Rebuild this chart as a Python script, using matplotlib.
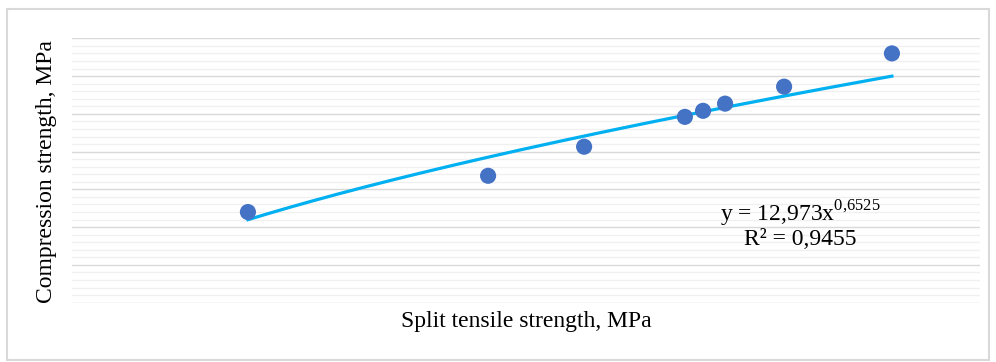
import matplotlib
matplotlib.use("Agg")
import matplotlib.pyplot as plt
import numpy as np
from matplotlib.patches import Rectangle
from matplotlib.ticker import MultipleLocator

plt.rcParams['font.family'] = ['Liberation Serif', 'DejaVu Serif']
plt.rcParams['mathtext.fontset'] = 'custom'
plt.rcParams['mathtext.rm'] = 'Liberation Serif'

# data
split_tensile = [0.775, 1.833, 2.256, 2.70, 2.78, 2.877, 3.137, 3.612]
compression = [12.0, 16.8, 20.65, 24.6, 25.4, 26.35, 28.6, 33.0]
fit_a = 12.973
fit_b = 0.6525
r2_text = "R² = 0,9455"

fig = plt.figure(figsize=(9.96, 3.62), dpi=100)
fig.patches.append(Rectangle((7/996, 2/362), 982/996, 351/362, transform=fig.transFigure,
                             fill=False, edgecolor='#d9d9d9', linewidth=1.5))
ax = fig.add_axes([72/996, (362-302.7)/362, 908/996, (302.7-38.3)/362])

ax.set_xlim(0, 4)
ax.set_ylim(0, 35)
ax.yaxis.set_major_locator(MultipleLocator(5))
ax.yaxis.set_minor_locator(MultipleLocator(1))
ax.grid(True, which='major', axis='y', color='#d9d9d9', linewidth=1.0)
ax.grid(True, which='minor', axis='y', color='#f0f0f0', linewidth=1.0)
ax.set_axisbelow(True)
for s in ax.spines.values():
    s.set_visible(False)
ax.tick_params(which='both', left=False, bottom=False, labelleft=False, labelbottom=False)

xs = np.linspace(min(split_tensile), max(split_tensile), 200)
ax.plot(xs, fit_a * xs ** fit_b, color='#00B0F0', linewidth=2.3, zorder=2)
ax.scatter(split_tensile, compression, s=135, color='#4472C4', zorder=3, edgecolors='none')

ax.text(3.207, 11.8, r"y = 12,973x$^{\mathrm{0{,}6525}}$", fontsize=17, ha='center', va='center')
ax.text(3.207, 8.4, r2_text, fontsize=17, ha='center', va='center')

fig.text(526/996, 1 - 322/362, "Split tensile strength, MPa", fontsize=17, ha='center', va='center')
fig.text(47/996, 1 - 172/362, "Compression strength, MPa", fontsize=17, ha='center', va='center', rotation=90)

fig.savefig("out.png", dpi=100)
